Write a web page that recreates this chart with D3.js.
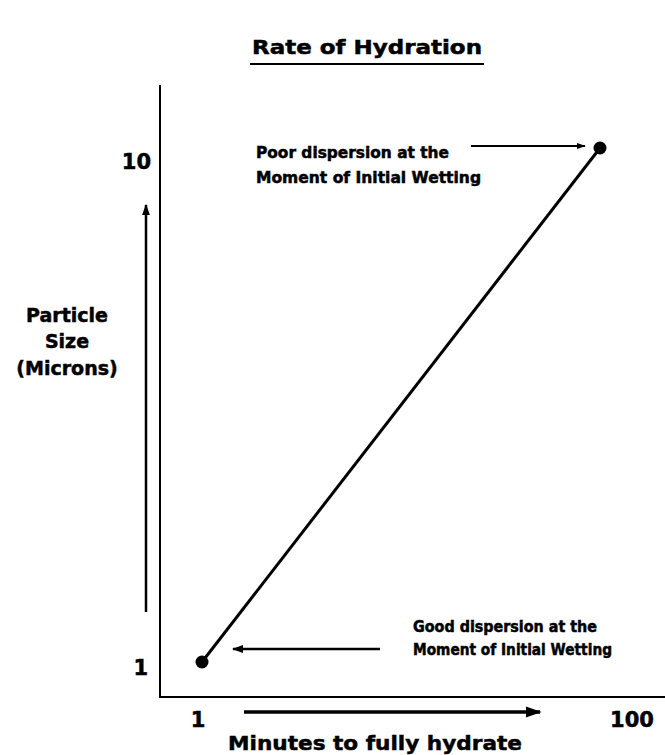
<!DOCTYPE html>
<html><head><meta charset="utf-8">
<script src="https://cdn.jsdelivr.net/npm/d3@7"></script>
<style>body{margin:0;background:#fff}svg{display:block}text{font-family:"DejaVu Sans",sans-serif;font-weight:bold;fill:#000;stroke:#000;stroke-width:0.5px}</style>
</head><body><svg id="c" width="665" height="755"></svg>
<script>
const minutes = [1, 100];
const particleSize = [1, 10];
const xTickLabels = ["1", "100"];
const yTickLabels = ["1", "10"];
const title = "Rate of Hydration";
const xLabel = "Minutes to fully hydrate";
const yLabelLines = ["Particle", "Size", "(Microns)"];
const annTop = ["Poor dispersion at the", "Moment of Initial Wetting"];
const annBottom = ["Good dispersion at the", "Moment of Initial Wetting"];

const svg = d3.select("#c");
svg.append("defs").append("marker").attr("id","ah").attr("viewBox","0 0 10 10")
  .attr("refX",9).attr("refY",5).attr("markerWidth",4.5).attr("markerHeight",4.5).attr("orient","auto")
  .append("path").attr("d","M0,1.5L10,5L0,8.5Z").attr("fill","#000");

const x = d3.scaleLog().domain([1,100]).range([202,600]);
const y = d3.scaleLog().domain([1,10]).range([662,148]);
const xl = d3.scaleLog().domain([1,100]).range([198,632]);
const yl = d3.scaleLog().domain([1,10]).range([675,169]);

function txt(t, xx, yy, size, len, anchor){
  const e = svg.append("text").attr("x",xx).attr("y",yy).attr("font-size",size)
    .attr("text-anchor",anchor||"start").text(t);
  if(len) e.attr("textLength",len).attr("lengthAdjust","spacingAndGlyphs");
  return e;
}

// title
txt(title, 252, 54, 20, 230);
svg.append("line").attr("x1",250).attr("x2",484).attr("y1",64).attr("y2",64).attr("stroke","#000").attr("stroke-width",2);

// axis lines
svg.append("line").attr("x1",160).attr("x2",160).attr("y1",85).attr("y2",698).attr("stroke","#000").attr("stroke-width",2);
svg.append("line").attr("x1",159).attr("x2",665).attr("y1",697).attr("y2",697).attr("stroke","#000").attr("stroke-width",2);

// tick labels
minutes.forEach((m,i)=>txt(xTickLabels[i], xl(m), 727, 21, null, "middle"));
particleSize.forEach((p,i)=>txt(yTickLabels[i], i?151:148, yl(p), 21, null, "end"));

// data line
const pts = minutes.map((m,i)=>[m,particleSize[i]]);
svg.append("path").datum(pts).attr("d",d3.line().x(d=>x(d[0])).y(d=>y(d[1])))
  .attr("stroke","#000").attr("stroke-width",3).attr("fill","none");
svg.selectAll("circle").data(pts).join("circle").attr("cx",d=>x(d[0])).attr("cy",d=>y(d[1])).attr("r",6.5).attr("fill","#000");

// axis direction arrows
svg.append("line").attr("x1",146).attr("x2",146).attr("y1",612).attr("y2",205).attr("stroke","#000").attr("stroke-width",2.5).attr("marker-end","url(#ah)");
svg.append("line").attr("x1",244).attr("x2",540).attr("y1",712).attr("y2",712).attr("stroke","#000").attr("stroke-width",3.5).attr("marker-end","url(#ah)");

// annotations
svg.append("line").attr("x1",471).attr("x2",585).attr("y1",146).attr("y2",146).attr("stroke","#000").attr("stroke-width",2).attr("marker-end","url(#ah)");
svg.append("line").attr("x1",380).attr("x2",233).attr("y1",649).attr("y2",649).attr("stroke","#000").attr("stroke-width",2.5).attr("marker-end","url(#ah)");
const topLens=[193,225], botLens=[184,199];
annTop.forEach((t,i)=>txt(t, 256, 158+i*25, 15, topLens[i]));
annBottom.forEach((t,i)=>txt(t, 413, 632+i*23, 15, botLens[i]));

// axis titles
txt(xLabel, 228, 750, 20, 294);
const yY=[322,348,375];
yLabelLines.forEach((t,i)=>txt(t, 67, yY[i], 19, null, "middle"));
</script></body></html>
